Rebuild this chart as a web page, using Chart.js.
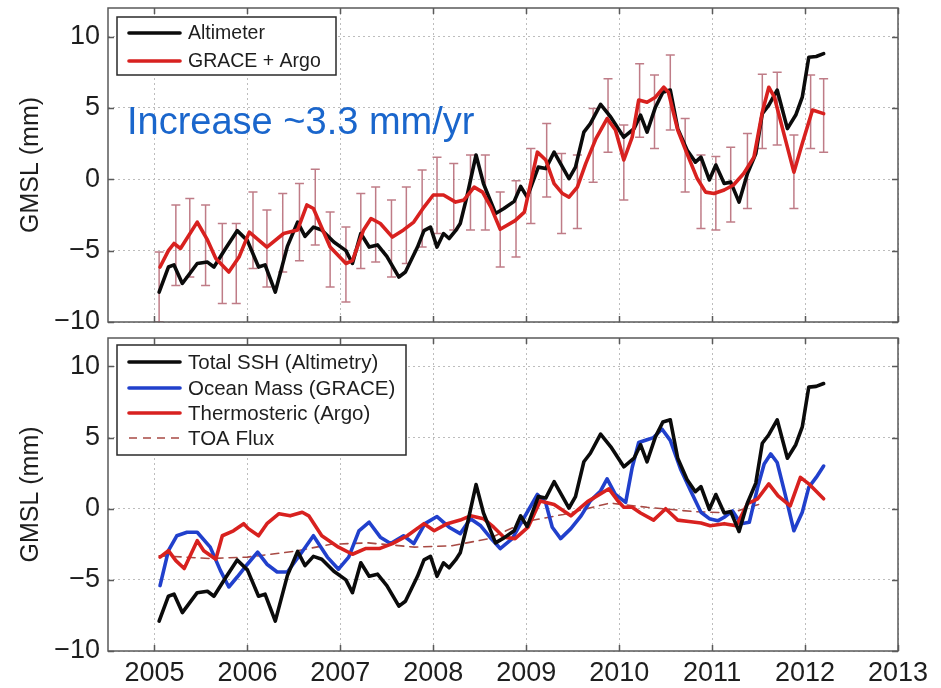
<!DOCTYPE html>
<html>
<head>
<meta charset="utf-8">
<script src="https://cdn.jsdelivr.net/npm/chart.js@4.4.1/dist/chart.umd.min.js"></script>
<style>
  html, body { margin: 0; padding: 0; background: #fff; }
  #wrap { position: relative; width: 941px; height: 688px; overflow: hidden; }
  canvas { position: absolute; left: 0; }
  #topPanel { top: 0; }
  #bottomPanel { top: 330px; }
</style>
</head>
<body>
<div id="wrap">
  <canvas id="topPanel" width="941" height="330"></canvas>
  <canvas id="bottomPanel" width="941" height="358"></canvas>
</div>
<script>
// ---- axis ticks ----
const yearTicks = [2005, 2006, 2007, 2008, 2009, 2010, 2011, 2012, 2013];
const gmslTicks = [-10, -5, 0, 5, 10];

// ---- Altimeter / total sea surface height (mm) ----
const altTime = [2005.05, 2005.15, 2005.21, 2005.30, 2005.46, 2005.57, 2005.64, 2005.76, 2005.89, 2006.00,
  2006.12, 2006.19, 2006.30, 2006.43, 2006.54, 2006.62, 2006.71, 2006.80, 2006.93, 2007.06,
  2007.13, 2007.22, 2007.31, 2007.40, 2007.50, 2007.63, 2007.70, 2007.83, 2007.90, 2007.97,
  2008.04, 2008.11, 2008.17, 2008.24, 2008.29, 2008.36, 2008.46, 2008.54, 2008.67, 2008.76,
  2008.87, 2008.94, 2009.01, 2009.13, 2009.21, 2009.30, 2009.46, 2009.53, 2009.62, 2009.69,
  2009.80, 2009.91, 2010.05, 2010.16, 2010.23, 2010.30, 2010.39, 2010.47, 2010.55, 2010.63,
  2010.73, 2010.82, 2010.88, 2010.97, 2011.04, 2011.13, 2011.20, 2011.29, 2011.38, 2011.47,
  2011.54, 2011.61, 2011.70, 2011.81, 2011.90, 2011.97, 2012.04, 2012.12, 2012.20];
const altimeter = [-7.9, -6.15, -6.0, -7.3, -5.9, -5.8, -6.15, -4.9, -3.6, -4.3,
  -6.15, -6.0, -7.9, -4.7, -3.0, -4.0, -3.35, -3.55, -4.4, -5.0,
  -5.9, -3.8, -4.75, -4.6, -5.4, -6.85, -6.5, -4.75, -3.6, -3.35,
  -4.75, -3.8, -4.15, -3.6, -3.1, -1.25, 1.7, -0.3, -2.4, -2.05,
  -1.55, -0.5, -1.25, 0.85, 0.75, 1.9, 0.05, 0.85, 3.3, 3.9,
  5.25, 4.35, 2.95, 3.55, 4.5, 3.3, 5.05, 6.1, 6.25, 3.55,
  2.05, 1.2, 1.55, -0.05, 1.0, -0.3, -0.2, -1.6, 0.4, 1.8,
  4.6, 5.2, 6.25, 3.55, 4.5, 5.75, 8.55, 8.6, 8.8];

// ---- GRACE + Argo sum (mm) ----
const sumTime = [2005.06, 2005.15, 2005.21, 2005.28, 2005.46, 2005.57, 2005.66, 2005.80, 2005.91, 2006.02,
  2006.21, 2006.39, 2006.54, 2006.64, 2006.71, 2006.89, 2007.06, 2007.13, 2007.25, 2007.33,
  2007.43, 2007.56, 2007.68, 2007.79, 2007.90, 2008.00, 2008.11, 2008.24, 2008.33, 2008.44,
  2008.53, 2008.62, 2008.72, 2008.88, 2008.98, 2009.12, 2009.21, 2009.30, 2009.39, 2009.46,
  2009.55, 2009.64, 2009.75, 2009.87, 2009.96, 2010.05, 2010.14, 2010.21, 2010.30, 2010.39,
  2010.48, 2010.53, 2010.63, 2010.73, 2010.84, 2010.93, 2011.02, 2011.13, 2011.23, 2011.34,
  2011.45, 2011.54, 2011.61, 2011.67, 2011.80, 2011.88, 2011.97, 2012.08, 2012.20];
const graceArgo = [-6.15, -5.0, -4.5, -4.85, -3.0, -4.25, -5.55, -6.5, -5.45, -3.7,
  -4.75, -3.8, -3.55, -1.8, -2.05, -4.75, -5.9, -5.7, -3.55, -2.75,
  -3.1, -4.05, -3.55, -3.0, -1.95, -1.1, -1.1, -1.6, -1.45, -0.55,
  -0.9, -1.95, -3.5, -2.9, -2.3, 1.9, 1.35, -0.3, -1.0, -1.25,
  -0.55, 1.1, 2.85, 4.25, 3.45, 1.35, 2.95, 5.55, 5.4, 5.75,
  6.45, 6.1, 3.45, 1.8, 0.05, -0.9, -1.0, -0.75, -0.4, 0.4,
  1.55, 4.7, 6.45, 5.75, 2.5, 0.5, 2.5, 4.85, 4.6];

// ---- error range of the GRACE + Argo sum (mm) ----
const errTime = [2005.05, 2005.23, 2005.38, 2005.55, 2005.73, 2005.88, 2006.06, 2006.21, 2006.38, 2006.56,
  2006.73, 2006.89, 2007.06, 2007.22, 2007.38, 2007.55, 2007.71, 2007.88, 2008.04, 2008.22,
  2008.40, 2008.56, 2008.72, 2008.89, 2009.05, 2009.22, 2009.38, 2009.55, 2009.72, 2009.88,
  2010.05, 2010.22, 2010.38, 2010.55, 2010.71, 2010.88, 2011.04, 2011.20, 2011.38, 2011.54,
  2011.70, 2011.88, 2012.06, 2012.20];
const errLow = [-10.0, -7.45, -6.85, -7.45, -8.7, -8.7, -6.25, -7.55, -6.5, -5.7,
  -4.6, -7.55, -8.6, -6.25, -5.8, -6.85, -5.9, -4.75, -3.8, -3.55,
  -3.55, -3.55, -6.15, -5.45, -3.1, -1.25, -3.8, -3.45, -0.2, 1.9,
  -1.45, 2.95, 2.15, 3.45, -0.9, -3.45, -3.55, -3.0, -2.05, 2.15,
  2.4, -2.05, 2.15, 1.9];
const errHigh = [-5.1, -1.8, -1.35, -1.8, -3.1, -3.1, -0.9, -2.15, -1.0, -0.3,
  0.7, -2.3, -3.35, -1.0, -0.55, -1.45, -0.55, 0.65, 1.55, 1.1,
  1.7, 1.7, -0.9, -0.1, 2.15, 3.9, 1.8, 1.7, 4.95, 7.05,
  3.8, 8.1, 7.3, 8.7, 4.25, 1.7, 1.6, 2.25, 3.2, 7.35,
  7.5, 3.1, 7.3, 7.05];

// ---- Ocean mass from GRACE (mm) ----
const massTime = [2005.06, 2005.15, 2005.24, 2005.35, 2005.46, 2005.60, 2005.71, 2005.80, 2005.89, 2006.00,
  2006.11, 2006.21, 2006.32, 2006.43, 2006.57, 2006.71, 2006.86, 2006.98, 2007.09, 2007.20,
  2007.31, 2007.43, 2007.54, 2007.68, 2007.79, 2007.91, 2008.04, 2008.17, 2008.29, 2008.40,
  2008.51, 2008.61, 2008.72, 2008.85, 2008.94, 2009.12, 2009.21, 2009.28, 2009.37, 2009.48,
  2009.59, 2009.69, 2009.80, 2009.87, 2009.96, 2010.07, 2010.14, 2010.21, 2010.30, 2010.37,
  2010.46, 2010.55, 2010.66, 2010.77, 2010.88, 2010.97, 2011.06, 2011.13, 2011.22, 2011.31,
  2011.40, 2011.49, 2011.56, 2011.63, 2011.70, 2011.79, 2011.88, 2011.97, 2012.04, 2012.12,
  2012.20];
const oceanMass = [-5.4, -2.95, -1.9, -1.65, -1.65, -2.7, -4.35, -5.5, -4.8, -3.9,
  -3.05, -3.9, -4.45, -4.45, -3.2, -1.9, -3.4, -4.25, -3.4, -1.55,
  -0.95, -2.0, -2.45, -1.9, -2.45, -1.05, -0.55, -1.3, -1.75, -0.7,
  -1.2, -2.0, -2.8, -2.1, -1.05, 1.0, 0.4, -1.3, -2.1, -1.4,
  -0.5, 0.55, 1.25, 2.1, 1.0, 0.45, 2.9, 4.65, 4.85, 5.0,
  5.6, 4.8, 2.8, 1.25, -0.25, -0.7, -0.85, -0.6, -0.15, -1.05,
  -0.95, 1.5, 3.15, 3.85, 3.25, 0.9, -1.55, -0.25, 1.5, 2.2,
  3.0];

// ---- Thermosteric sea level from Argo (mm) ----
const steroTime = [2005.06, 2005.15, 2005.23, 2005.32, 2005.46, 2005.53, 2005.66, 2005.73, 2005.85, 2005.96,
  2006.01, 2006.12, 2006.21, 2006.34, 2006.46, 2006.59, 2006.66, 2006.80, 2006.98, 2007.13,
  2007.27, 2007.42, 2007.56, 2007.72, 2007.90, 2008.01, 2008.15, 2008.29, 2008.40, 2008.54,
  2008.65, 2008.76, 2008.88, 2009.02, 2009.15, 2009.30, 2009.48, 2009.66, 2009.89, 2009.98,
  2010.05, 2010.14, 2010.23, 2010.37, 2010.50, 2010.63, 2010.75, 2010.88, 2010.98, 2011.13,
  2011.26, 2011.38, 2011.49, 2011.61, 2011.71, 2011.84, 2011.95, 2012.04, 2012.20];
const thermosteric = [-3.4, -2.95, -3.65, -4.2, -2.25, -2.95, -3.55, -1.9, -1.55, -1.05,
  -1.4, -1.9, -1.05, -0.35, -0.5, -0.25, -0.5, -1.9, -2.7, -3.2,
  -2.8, -2.8, -2.45, -1.9, -1.05, -1.55, -1.05, -0.8, -0.5, -0.7,
  -1.3, -2.0, -2.1, -1.3, 0.55, 0.3, -0.5, 0.5, 1.4, 0.6,
  0.1, 0.1, -0.3, -0.8, 0.0, -0.8, -0.9, -1.0, -1.2, -1.05,
  -1.2, 0.35, 0.7, 1.75, 0.9, 0.2, 2.2, 1.75, 0.7];

// ---- Top-of-atmosphere flux equivalent (mm) ----
const toaTime = [2005.05, 2005.60, 2006.00, 2006.50, 2006.90, 2007.30, 2007.80, 2008.20, 2008.60, 2009.00,
  2009.40, 2009.90, 2010.30, 2010.80, 2011.20, 2011.50];
const toaFlux = [-3.3, -3.5, -3.4, -3.0, -2.5, -2.4, -2.7, -2.6, -2.1, -0.9,
  -0.4, 0.4, 0.1, -0.2, -0.3, 0.3];

// ---- styling ----
const FONT = '"Liberation Sans", Arial, Helvetica, sans-serif';
const BLACK = '#0b0b0b';
const RED = '#d8211f';
const BLUE = '#2140cc';
const TOA = '#a84a44';
const FRAME = '#5a5a5a';

const pairs = (xs, ys) => xs.map((x, i) => ({ x: x, y: ys[i] }));
const fmtMinus = v => (v < 0 ? '\u2212' + Math.abs(v) : String(v));

function panelOptions(showYears, xAxisHeight) {
  return {
    responsive: false,
    animation: false,
    events: [],
    layout: { padding: { left: 0, right: 43, top: 8, bottom: 0 } },
    plugins: { legend: { display: false }, tooltip: { enabled: false } },
    elements: {
      point: { radius: 0 },
      line: { tension: 0, borderJoinStyle: 'round', borderCapStyle: 'round' }
    },
    scales: {
      x: {
        type: 'linear', min: 2004.5, max: 2013,
        afterBuildTicks: s => { s.ticks = yearTicks.map(v => ({ value: v })); },
        afterFit: s => { s.height = xAxisHeight; s.paddingLeft = 0; s.paddingRight = 0; },
        grid: { color: '#bdbdbd', lineWidth: 1, drawTicks: false },
        border: { display: false, dash: [2, 3] },
        ticks: {
          display: showYears, autoSkip: false, maxRotation: 0, padding: 6,
          color: '#1e1e1e', font: { family: FONT, size: 27 },
          callback: v => String(v)
        }
      },
      y: {
        min: -10, max: 12,
        afterBuildTicks: s => { s.ticks = gmslTicks.map(v => ({ value: v })); },
        afterFit: s => { s.width = 108; s.paddingTop = 0; s.paddingBottom = 0; },
        grid: { color: '#bdbdbd', lineWidth: 1, drawTicks: false },
        border: { display: false, dash: [2, 3] },
        ticks: {
          padding: 8, color: '#1e1e1e', font: { family: FONT, size: 27 },
          callback: v => fmtMinus(v)
        },
        title: {
          display: true, text: 'GMSL (mm)', color: '#1e1e1e',
          font: { family: FONT, size: 25 }, padding: { top: 16, bottom: 0 }
        }
      }
    }
  };
}

// box frame with inward tick marks
const framePlugin = {
  id: 'panelFrame',
  afterDatasetsDraw(chart) {
    const { ctx, chartArea: a, scales } = chart;
    const tick = 6;
    ctx.save();
    ctx.strokeStyle = FRAME;
    ctx.lineWidth = 1.5;
    ctx.beginPath();
    scales.x.ticks.forEach(t => {
      const px = Math.round(scales.x.getPixelForValue(t.value)) + 0.5;
      ctx.moveTo(px, a.bottom); ctx.lineTo(px, a.bottom - tick);
      ctx.moveTo(px, a.top); ctx.lineTo(px, a.top + tick);
    });
    scales.y.ticks.forEach(t => {
      const py = Math.round(scales.y.getPixelForValue(t.value)) + 0.5;
      ctx.moveTo(a.left, py); ctx.lineTo(a.left + tick, py);
      ctx.moveTo(a.right, py); ctx.lineTo(a.right - tick, py);
    });
    ctx.stroke();
    ctx.strokeRect(a.left, a.top, a.right - a.left, a.bottom - a.top);
    ctx.restore();
  }
};

// legend box drawn inside the plot, using each dataset's own line style
function legendPlugin(cfg) {
  return {
    id: 'panelLegend',
    afterDraw(chart) {
      const ctx = chart.ctx;
      const [bx, by, bw, bh] = cfg.box;
      ctx.save();
      ctx.fillStyle = '#fff';
      ctx.fillRect(bx, by, bw, bh);
      ctx.strokeStyle = '#2a2a2a';
      ctx.lineWidth = 1.5;
      ctx.strokeRect(bx, by, bw, bh);
      ctx.font = cfg.fontSize + 'px ' + FONT;
      ctx.textBaseline = 'middle';
      ctx.textAlign = 'left';
      cfg.items.forEach((idx, row) => {
        const ds = chart.data.datasets[idx];
        const y = cfg.rows[row];
        ctx.save();
        ctx.strokeStyle = ds.borderColor;
        ctx.lineWidth = ds.borderWidth;
        ctx.setLineDash(ds.borderDash || []);
        ctx.lineCap = ds.borderDash ? 'butt' : 'round';
        ctx.beginPath();
        ctx.moveTo(cfg.sample[0], y);
        ctx.lineTo(cfg.sample[1], y);
        ctx.stroke();
        ctx.restore();
        ctx.fillStyle = '#1e1e1e';
        ctx.fillText(ds.label, cfg.textX, y + 1);
      });
      ctx.restore();
    }
  };
}

// vertical error bars with caps for the GRACE + Argo sum
const errorBarPlugin = {
  id: 'errorBars',
  beforeDatasetsDraw(chart) {
    const { ctx, chartArea: a, scales: { x, y } } = chart;
    const cap = 4.5;
    ctx.save();
    ctx.beginPath();
    ctx.rect(a.left, a.top, a.right - a.left, a.bottom - a.top);
    ctx.clip();
    ctx.strokeStyle = 'rgba(170, 80, 95, 0.75)';
    ctx.lineWidth = 1.5;
    ctx.beginPath();
    errTime.forEach((t, i) => {
      const px = x.getPixelForValue(t);
      const lo = y.getPixelForValue(errLow[i]);
      const hi = y.getPixelForValue(errHigh[i]);
      ctx.moveTo(px, lo); ctx.lineTo(px, hi);
      ctx.moveTo(px - cap, lo); ctx.lineTo(px + cap, lo);
      ctx.moveTo(px - cap, hi); ctx.lineTo(px + cap, hi);
    });
    ctx.stroke();
    ctx.restore();
  }
};

// trend annotation
const trendTextPlugin = {
  id: 'trendText',
  afterDatasetsDraw(chart) {
    const ctx = chart.ctx;
    ctx.save();
    ctx.font = '38px ' + FONT;
    ctx.fillStyle = '#1a66cc';
    ctx.textBaseline = 'middle';
    ctx.textAlign = 'left';
    ctx.fillText('Increase ~3.3 mm/yr', 127, 124);
    ctx.restore();
  }
};

// ---- upper panel: altimeter vs GRACE + Argo ----
new Chart(document.getElementById('topPanel'), {
  type: 'line',
  data: {
    datasets: [
      { label: 'Altimeter', data: pairs(altTime, altimeter), borderColor: BLACK, borderWidth: 3.6, order: 1 },
      { label: 'GRACE + Argo', data: pairs(sumTime, graceArgo), borderColor: RED, borderWidth: 3.6, order: 0 }
    ]
  },
  options: panelOptions(false, 8),
  plugins: [errorBarPlugin, framePlugin, trendTextPlugin,
    legendPlugin({ box: [117, 17, 219, 58], rows: [33, 61], sample: [129, 180], textX: 188, fontSize: 19.5, items: [0, 1] })]
});

// ---- lower panel: budget components ----
new Chart(document.getElementById('bottomPanel'), {
  type: 'line',
  data: {
    datasets: [
      { label: 'Total SSH (Altimetry)', data: pairs(altTime, altimeter), borderColor: BLACK, borderWidth: 3.6, order: 0 },
      { label: 'Ocean Mass (GRACE)', data: pairs(massTime, oceanMass), borderColor: BLUE, borderWidth: 3.6, order: 2 },
      { label: 'Thermosteric (Argo)', data: pairs(steroTime, thermosteric), borderColor: RED, borderWidth: 3.6, order: 1 },
      { label: 'TOA Flux', data: pairs(toaTime, toaFlux), borderColor: TOA, borderWidth: 1.6, borderDash: [8, 6], order: 3 }
    ]
  },
  options: panelOptions(true, 37),
  plugins: [framePlugin,
    legendPlugin({ box: [117, 15, 289, 110], rows: [32, 58, 83, 108], sample: [129, 180], textX: 188, fontSize: 20.5, items: [0, 1, 2, 3] })]
});
</script>
</body>
</html>
